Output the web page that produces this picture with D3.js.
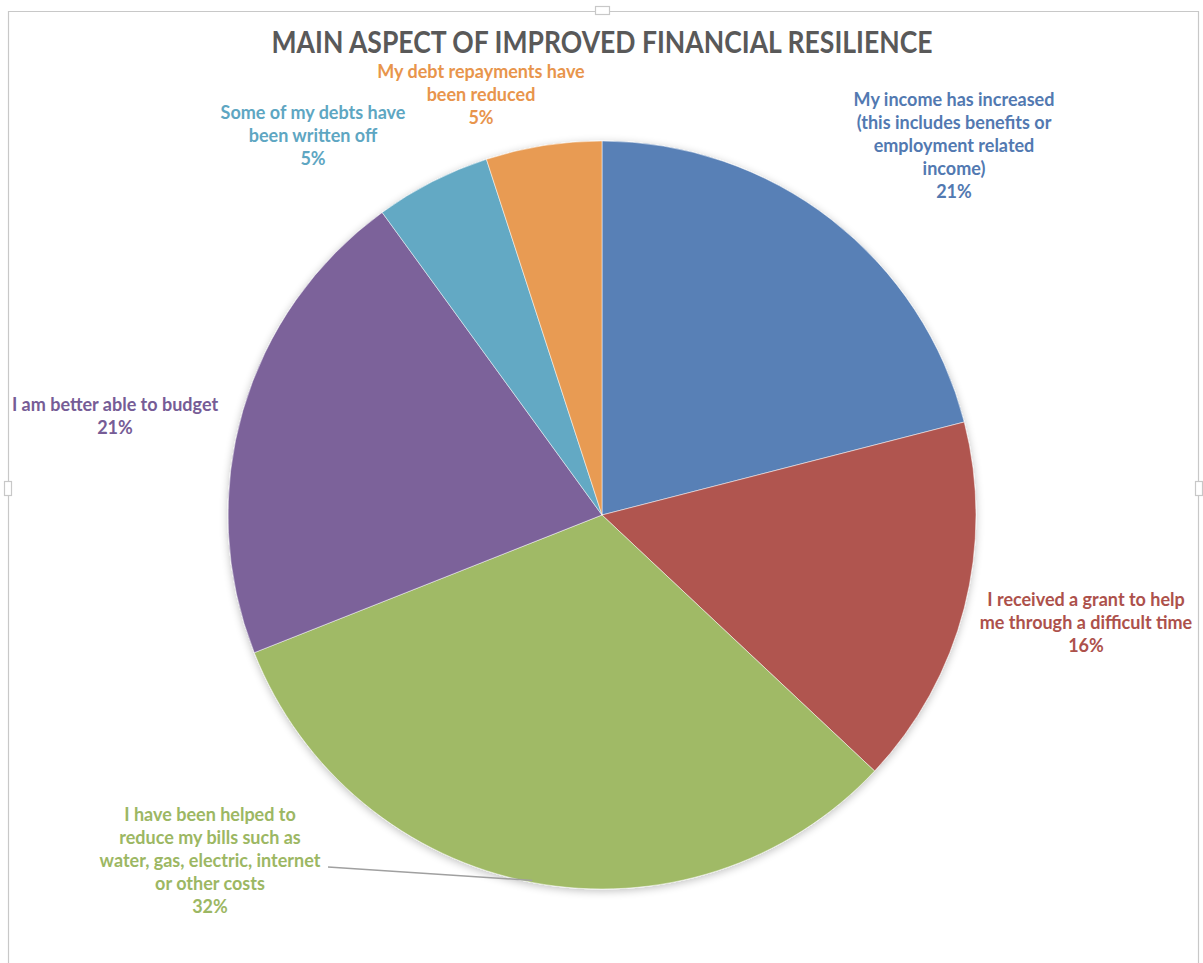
<!DOCTYPE html>
<html>
<head>
<meta charset="utf-8">
<script src="https://cdn.jsdelivr.net/npm/d3@7"></script>
<style>
  html, body { margin: 0; padding: 0; background: #ffffff; }
  svg { display: block; }
</style>
</head>
<body>
<svg id="chart" width="1203" height="963"></svg>
<script>
// Survey answers: main aspect of improved financial resilience (% of respondents)
const categories = [
  "My income has increased (this includes benefits or employment related income)",
  "I received a grant to help me through a difficult time",
  "I have been helped to reduce my bills such as water, gas, electric, internet or other costs",
  "I am better able to budget",
  "Some of my debts have been written off",
  "My debt repayments have been reduced"
];
const values = [21, 16, 32, 21, 5, 5];
const colors = ["#5880b6", "#b0554f", "#a0ba66", "#7b629a", "#63a9c4", "#e89b52"];
const labelColors = ["#5279b1", "#ad514b", "#9cb763", "#765c96", "#5ea6c2", "#e8954c"];

// Label lines as wrapped in the chart
const labelLines = [
  ["My income has increased", "(this includes benefits or", "employment related", "income)"],
  ["I received a grant to help", "me through a difficult time"],
  ["I have been helped to", "reduce my bills such as", "water, gas, electric, internet", "or other costs"],
  ["I am better able to budget"],
  ["Some of my debts have", "been written off"],
  ["My debt repayments have", "been reduced"]
];
// Label anchor points (centre x, first baseline y)
const labelPos = [
  [954, 106], [1086, 606], [210, 821], [115, 411], [313, 119], [481, 78]
];

const title = "MAIN ASPECT OF IMPROVED FINANCIAL RESILIENCE";

const svg = d3.select("#chart");
const W = 1203, H = 963;
const cx = 602, cy = 515, R = 374;

// Chart frame with sizing handles
const frame = svg.append("g").attr("fill", "none").attr("stroke", "#c8c8c8").attr("stroke-width", 1.2);
frame.append("path").attr("d", `M8.5,${H} L8.5,11.5 L1198.5,11.5 L1198.5,${H}`);
frame.append("rect").attr("x", 595.5).attr("y", 6.5).attr("width", 14).attr("height", 8).attr("fill", "#fff");
frame.append("rect").attr("x", 4.5).attr("y", 481.5).attr("width", 7).attr("height", 14).attr("fill", "#fff");
frame.append("rect").attr("x", 1195.5).attr("y", 481.5).attr("width", 7).attr("height", 14).attr("fill", "#fff");

// Title
svg.append("text")
  .attr("x", 602).attr("y", 53)
  .attr("text-anchor", "middle")
  .attr("font-family", "Lato, 'Open Sans', sans-serif")
  .attr("font-weight", 700)
  .attr("font-size", 30)
  .attr("fill", "#595959")
  .attr("textLength", 661)
  .attr("lengthAdjust", "spacingAndGlyphs")
  .text(title);

// Soft shadow under the pie
const defs = svg.append("defs");
const f = defs.append("filter").attr("id", "shadow").attr("x", "-10%").attr("y", "-10%").attr("width", "120%").attr("height", "120%");
f.append("feGaussianBlur").attr("in", "SourceAlpha").attr("stdDeviation", 4).attr("result", "b");
f.append("feOffset").attr("in", "b").attr("dx", 0).attr("dy", 2).attr("result", "o");
f.append("feComponentTransfer").attr("in", "o").attr("result", "s")
  .append("feFuncA").attr("type", "linear").attr("slope", 0.25);
const m = f.append("feMerge");
m.append("feMergeNode").attr("in", "s");
m.append("feMergeNode").attr("in", "SourceGraphic");

const pie = d3.pie().sort(null).value(d => d);
const arcs = pie(values);
const arc = d3.arc().innerRadius(0).outerRadius(R);

const g = svg.append("g").attr("transform", `translate(${cx},${cy})`);
g.append("g").attr("filter", "url(#shadow)")
  .selectAll("path")
  .data(arcs)
  .join("path")
  .attr("d", arc)
  .attr("fill", (d, i) => colors[i])
  .attr("stroke", "#ffffff")
  .attr("stroke-width", 0.5);

// Leader line for the bills label, ending at the middle of its arc
const billsArc = arcs[2];
const leaderAngle = (billsArc.startAngle + billsArc.endAngle) / 2;
const leaderEnd = [cx + (R - 2) * Math.sin(leaderAngle), cy - (R - 2) * Math.cos(leaderAngle)];
svg.append("path")
  .attr("d", `M328,867 L${leaderEnd[0]},${leaderEnd[1]}`)
  .attr("stroke", "#a0a0a0")
  .attr("stroke-width", 1.5)
  .attr("fill", "none");

// Data labels: category lines followed by the percentage
const lineH = 23;
const labels = svg.append("g")
  .attr("font-family", "Lato, 'Open Sans', sans-serif")
  .attr("font-weight", 700)
  .attr("font-size", 18)
  .attr("text-anchor", "middle");

arcs.forEach((a, i) => {
  const [lx, ly] = labelPos[i];
  const t = labels.append("text").attr("fill", labelColors[i]);
  const lines = labelLines[i].concat([d3.format(".0f")(a.data) + "%"]);
  lines.forEach((ln, k) => {
    t.append("tspan").attr("x", lx).attr("y", ly + k * lineH).text(ln);
  });
});
</script>
</body>
</html>
